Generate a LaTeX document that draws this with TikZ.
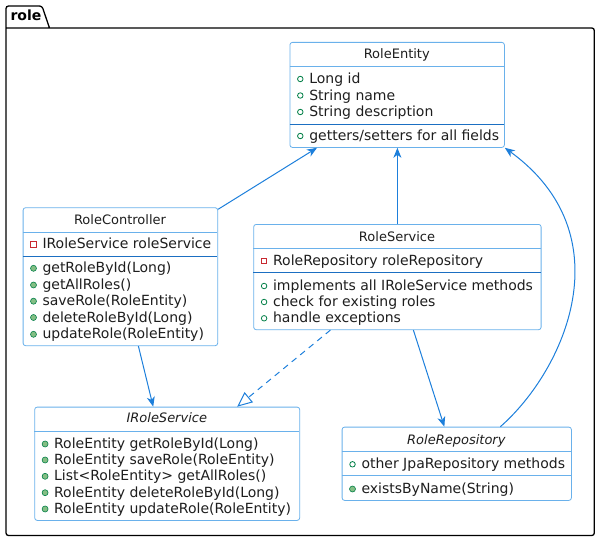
\documentclass[tikz,border=0pt]{standalone}
\usepackage{fontspec}
\setmainfont{DejaVu Sans}
\usetikzlibrary{arrows.meta,calc}
\definecolor{boxline}{HTML}{6AB1EB}
\definecolor{secline}{HTML}{1B6FC2}
\definecolor{arrowc}{HTML}{1D7FDB}
\definecolor{icgreen}{HTML}{038048}
\definecolor{icfill}{HTML}{84BE84}
\definecolor{icred}{HTML}{C82930}
\definecolor{txt}{HTML}{1E1E1E}
\tikzset{
  umlbox/.style={draw=boxline, line width=0.8pt, rounded corners=2.5pt, fill=white, inner sep=0pt},
  hsep/.style={draw=boxline, line width=0.8pt},
  msep/.style={draw=secline, line width=0.9pt},
  mtext/.style={font=\fontsize{14}{16}\selectfont, text=txt, inner sep=0pt},
  htext/.style={font=\fontsize{13}{15}\selectfont, text=txt, inner sep=0pt},
  pubf/.style={circle, draw=icgreen, line width=0.8pt, fill=white, minimum size=5.5pt, inner sep=0pt},
  pubm/.style={circle, draw=icgreen, line width=0.6pt, fill=icfill, minimum size=6pt, inner sep=0pt},
  priv/.style={rectangle, draw=icred, line width=0.8pt, fill=white, minimum size=5.5pt, inner sep=0pt},
  assoc/.style={draw=arrowc, line width=1pt, -{Stealth[length=10pt,width=8pt,inset=3pt]}},
  realiz/.style={draw=arrowc, line width=1pt, dash pattern=on 6pt off 5pt, -{Triangle[open,length=15pt,width=13pt,fill=white]}},
  pkgline/.style={draw=black, line width=1.3pt}
}
\newcommand{\cbox}[5]{%
  \node[umlbox, anchor=north west, minimum width={(#4-#2)*1pt}, minimum height={(#5-#3)*1pt}] (#1) at (#2,#3) {};}
\newcommand{\umem}[5]{%
  \node[#4] (#1i) at ({#2+10.8},#3) {};
  \node[mtext, anchor=base west] (#1) at ({#2+19.6},{#3+4.5}) {#5};}
\newcommand{\uhead}[4]{%
  \node[htext, anchor=base] (#1) at (#2,#3) {#4};}
\begin{document}
\begin{tikzpicture}[x=1pt,y=-1pt]
\useasboundingbox (0,0) rectangle (600,543);
% package
\draw[pkgline, rounded corners=2.5pt] (49.5,28) -- (42,6) -- (6,6) -- (6,535.5) -- (594.3,535.5) -- (594.3,28) -- (6,28);
\node[font=\fontsize{14}{16}\selectfont\bfseries, inner sep=0pt, anchor=base west] (pkgname) at (10.3,20.8) {role};

% RoleEntity
\cbox{re}{289.5}{42}{504}{147}
\draw[hsep] (289.5,66.5) -- (504,66.5);
\draw[msep] (289.5,124.3) -- (504,124.3);
\uhead{reh}{396.75}{58.3}{RoleEntity}
\umem{rea}{289.5}{79}{pubf}{Long id}
\umem{reb}{289.5}{95.5}{pubf}{String name}
\umem{rec}{289.5}{112}{pubf}{String description}
\umem{red}{289.5}{136}{pubf}{getters/setters for all fields}

% RoleController
\cbox{rc}{22.7}{207.3}{217.3}{345.3}
\draw[hsep] (22.7,232.7) -- (217.3,232.7);
\draw[msep] (22.7,256) -- (217.3,256);
\uhead{rch}{120}{224.3}{RoleController}
\umem{rca}{22.7}{244.3}{priv}{IRoleService roleService}
\umem{rcb}{22.7}{268.3}{pubm}{getRoleById(Long)}
\umem{rcc}{22.7}{285}{pubm}{getAllRoles()}
\umem{rcd}{22.7}{301.2}{pubm}{saveRole(RoleEntity)}
\umem{rce}{22.7}{317.5}{pubm}{deleteRoleById(Long)}
\umem{rcf}{22.7}{334.3}{pubm}{updateRole(RoleEntity)}

% RoleService
\cbox{rs}{253.3}{224}{540.7}{329.3}
\draw[hsep] (253.3,248.3) -- (540.7,248.3);
\draw[msep] (253.3,272.3) -- (540.7,272.3);
\uhead{rsh}{397}{241}{RoleService}
\umem{rsa}{253.3}{260.7}{priv}{RoleRepository roleRepository}
\umem{rsb}{253.3}{286}{pubf}{implements all IRoleService methods}
\umem{rsc}{253.3}{302}{pubf}{check for existing roles}
\umem{rsd}{253.3}{318.3}{pubf}{handle exceptions}

% IRoleService
\cbox{irs}{34.3}{406.7}{299.3}{520}
\draw[hsep] (34.3,431) -- (299.3,431);
\uhead{irsh}{166.8}{422.3}{\itshape IRoleService}
\umem{irsa}{34.3}{444}{pubm}{RoleEntity getRoleById(Long)}
\umem{irsb}{34.3}{460}{pubm}{RoleEntity saveRole(RoleEntity)}
\umem{irsc}{34.3}{476.3}{pubm}{List<RoleEntity> getAllRoles()}
\umem{irsd}{34.3}{492.7}{pubm}{RoleEntity deleteRoleById(Long)}
\umem{irse}{34.3}{509}{pubm}{RoleEntity updateRole(RoleEntity)}

% RoleRepository
\cbox{rr}{341.7}{426.7}{571}{500}
\draw[hsep] (341.7,451.7) -- (571,451.7);
\draw[hsep] (341.7,475.7) -- (571,475.7);
\uhead{rrh}{456.35}{444}{\itshape RoleRepository}
\umem{rra}{341.7}{464.3}{pubf}{other JpaRepository methods}
\umem{rrb}{341.7}{489}{pubm}{existsByName(String)}

% connectors
\draw[assoc] ([yshift=-2pt]rc.north east) -- ([xshift=27.5pt]re.south west);
\draw[assoc] (rs.north) -- (rs.north |- re.south);
\draw[assoc] ([xshift=43.6pt]rr.north) .. controls (565,370) and (625,235) .. (re.south east);
\draw[assoc] ([xshift=18pt]rc.south) -- ([xshift=-14pt]irs.north);
\draw[realiz] ([xshift=-67pt]rs.south) -- ([xshift=70pt]irs.north);
\draw[assoc] ([xshift=16pt]rs.south) -- ([xshift=-12.4pt]rr.north);
\end{tikzpicture}
\end{document}
